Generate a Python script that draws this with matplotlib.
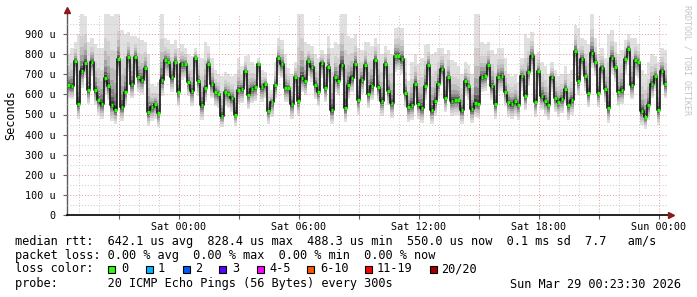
import numpy as np
import matplotlib
matplotlib.use("Agg")
import matplotlib.pyplot as plt
from matplotlib.patches import Rectangle

W, H = 697, 297
MONO = "DejaVu Sans Mono"

# ---- data (10-minute steps, starting Fri 18:24, values in microseconds) ----
start_hour = -5.6          # hours relative to Sat 00:00
step_hours = 1.0 / 6.0

median = [
    645, 640, 765, 550, 715, 755, 620, 760, 620, 570,
    550, 680, 640, 545, 520, 775, 535, 610, 785, 650,
    785, 685, 670, 730, 510, 535, 550, 505, 670, 770,
    760, 685, 760, 610, 750, 750, 660, 615, 780, 665,
    545, 630, 750, 650, 610, 600, 495, 610, 600, 580,
    500, 620, 625, 715, 595, 625, 635, 750, 635, 650,
    515, 560, 645, 780, 750, 630, 630, 550, 685, 565,
    680, 665, 765, 735, 645, 610, 755, 630, 735, 520,
    685, 665, 745, 530, 645, 680, 750, 570, 670, 745,
    600, 640, 770, 635, 565, 750, 615, 555, 790, 790,
    775, 605, 535, 545, 650, 550, 530, 640, 745, 520,
    565, 650, 725, 580, 685, 565, 570, 570, 520, 665,
    640, 525, 555, 550, 685, 690, 745, 640, 550, 685,
    690, 610, 560, 550, 565, 545, 690, 590, 710, 790,
    560, 715, 590, 565, 545, 685, 580, 560, 575, 625,
    545, 570, 815, 665, 775, 690, 605, 805, 760, 605,
    730, 625, 530, 780, 735, 610, 620, 775, 828, 645,
    770, 760, 515, 488, 545, 650, 690, 520, 715, 650,
]

smoke_hi = [
    800, 830, 860, 900, 1000, 990, 860, 880, 850, 830,
    830, 1000, 1000, 990, 1000, 1000, 920, 900, 910, 890,
    890, 880, 870, 860, 800, 650, 640, 660, 1000, 880,
    870, 850, 870, 830, 850, 830, 800, 790, 830, 800,
    780, 860, 840, 780, 720, 700, 690, 710, 700, 690,
    700, 780, 740, 790, 795, 760, 740, 780, 720, 710,
    640, 620, 760, 880, 870, 800, 730, 700, 760, 1000,
    1000, 860, 850, 840, 800, 780, 820, 800, 890, 830,
    860, 850, 1000, 1000, 890, 880, 900, 830, 820, 860,
    860, 840, 880, 850, 800, 840, 820, 800, 930, 935,
    930, 780, 665, 760, 800, 750, 780, 845, 850, 800,
    810, 830, 830, 800, 820, 770, 760, 740, 700, 760,
    745, 700, 1000, 1000, 860, 850, 860, 820, 800, 830,
    830, 780, 700, 690, 700, 660, 780, 900, 880, 910,
    800, 810, 760, 740, 700, 760, 720, 690, 700, 740,
    700, 720, 945, 930, 880, 870, 850, 1000, 880, 800,
    830, 780, 900, 920, 860, 800, 820, 870, 900, 880,
    880, 850, 720, 700, 760, 800, 790, 760, 830, 820,
]

smoke_lo = [
    580, 575, 690, 480, 630, 680, 550, 690, 545, 500,
    480, 600, 570, 470, 455, 690, 470, 540, 710, 580,
    700, 610, 600, 650, 445, 470, 480, 440, 590, 690,
    690, 610, 680, 540, 670, 680, 590, 540, 700, 590,
    475, 560, 670, 580, 540, 530, 440, 540, 530, 510,
    445, 550, 555, 640, 525, 555, 565, 670, 560, 580,
    455, 490, 575, 700, 680, 560, 560, 480, 610, 495,
    610, 595, 690, 660, 575, 540, 680, 560, 660, 455,
    610, 595, 670, 465, 575, 610, 675, 500, 600, 670,
    530, 570, 690, 565, 495, 675, 545, 485, 710, 720,
    700, 535, 465, 475, 580, 480, 460, 570, 670, 455,
    495, 580, 650, 510, 610, 495, 500, 500, 455, 590,
    570, 460, 490, 485, 610, 615, 670, 570, 480, 610,
    615, 540, 490, 480, 495, 475, 615, 520, 640, 710,
    490, 640, 520, 495, 475, 610, 510, 490, 505, 555,
    475, 500, 740, 595, 700, 615, 535, 730, 690, 535,
    655, 555, 460, 700, 660, 540, 550, 700, 750, 575,
    690, 680, 450, 430, 475, 580, 615, 450, 640, 580,
]

x_tick_hours = [0, 6, 12, 18, 24]
x_tick_labels = ["Sat 00:00", "Sat 06:00", "Sat 12:00", "Sat 18:00", "Sun 00:00"]
y_ticks = [0, 100, 200, 300, 400, 500, 600, 700, 800, 900]
y_tick_labels = ["0", "100 u", "200 u", "300 u", "400 u", "500 u",
                 "600 u", "700 u", "800 u", "900 u"]

loss_labels = ["0", "1", "2", "3", "4-5", "6-10", "11-19", "20/20"]
loss_colors = ["#26ff00", "#00b8ff", "#0059ff", "#5e00ff",
               "#ff00ff", "#ff5500", "#ff0000", "#a10000"]

stats_line = "median rtt:  642.1 us avg  828.4 us max  488.3 us min  550.0 us now  0.1 ms sd  7.7   am/s"
loss_line = "packet loss: 0.00 % avg  0.00 % max  0.00 % min  0.00 % now"
probe_line = "probe:       20 ICMP Echo Pings (56 Bytes) every 300s"
stamp = "Sun Mar 29 00:23:30 2026"

# ---- figure ----
fig = plt.figure(figsize=(W / 100, H / 100), dpi=100)
fig.patch.set_facecolor("white")
ax = fig.add_axes([67 / W, 82 / H, 600 / W, 201 / H])

med = np.array(median, float)
hi = np.array(smoke_hi, float)
lo = np.array(smoke_lo, float)
n = len(med)
t = start_hour + np.arange(n + 1) * step_hours
ext = lambda a: np.append(a, a[-1])

fracs_up = [1.0, 0.62, 0.42, 0.28, 0.18, 0.10, 0.05]
fracs_dn = [1.0, 0.80, 0.62, 0.46, 0.32, 0.20, 0.10]
grays = ["#e0e0e0", "#d0d0d0", "#bcbcbc", "#a2a2a2", "#848484", "#5e5e5e", "#3a3a3a"]
for fu, fd, g in zip(fracs_up, fracs_dn, grays):
    top = med + fu * (hi - med)
    bot = med - fd * (med - lo)
    ax.fill_between(t, ext(bot), ext(top), step="post", color=g, lw=0, zorder=1)

ax.step(t, ext(med), where="post", color="#141414", lw=1.2, zorder=3)
ax.hlines(med, t[:-1] + 0.02, t[1:] - 0.02, color="#22ff00", lw=2.4, zorder=4)

ax.set_xlim(start_hour, start_hour + n * step_hours)
ax.set_ylim(0, 1000)

# grid
maj_x = np.arange(-3, 25, 3)
ax.set_xticks(maj_x)
ax.set_xticklabels([x_tick_labels[x_tick_hours.index(h)] if h in x_tick_hours else "" for h in maj_x],
                   fontfamily=MONO, fontsize=7.3)
ax.set_xticks(np.arange(-5, 25, 1), minor=True)
ax.set_yticks(y_ticks)
ax.set_yticklabels(y_tick_labels, fontfamily=MONO, fontsize=7.3)
ax.set_yticks(np.arange(50, 1000, 100), minor=True)

ax.set_axisbelow(False)
dot = (0, (1, 2))
ax.grid(which="major", color="#e39a9a", lw=0.7, ls=dot, zorder=2.5)
ax.grid(which="minor", color="#c8c8c8", lw=0.7, ls=dot, zorder=2.4)
ax.tick_params(which="major", axis="x", length=3, width=0.8, color="#606060", pad=2)
ax.tick_params(which="major", axis="y", length=3, width=0.8, color="#606060", pad=5)
ax.tick_params(which="minor", length=0)

for s in ["top", "right"]:
    ax.spines[s].set_visible(False)
ax.spines["left"].set_color("#5a5a5a")
ax.spines["left"].set_linewidth(1.0)
ax.spines["bottom"].set_visible(False)
ax.plot([0, 1 + 4 / 600], [0, 0], transform=ax.transAxes, color="black", lw=1.2,
        clip_on=False, zorder=5)
ax.plot([1 + 4 / 600], [0], marker=">", ms=4.5, color="#8b1a1a", transform=ax.transAxes,
        clip_on=False, zorder=6)
ax.plot([0], [1 + 4 / 201], marker="^", ms=4.5, color="#8b1a1a", transform=ax.transAxes,
        clip_on=False, zorder=6)

# labels
fig.text(11 / W, 1 - 115 / H, "Seconds", rotation=90, ha="center", va="center",
         fontfamily=MONO, fontsize=8.5)
fig.text(687 / W, 1 - 5 / H, "RRDTOOL / TOBI OETIKER", rotation=270, ha="center", va="top",
         fontfamily=MONO, fontsize=6.0, color="#c4c4c4")

fs = 8.55
fig.text(15 / W, 1 - 241 / H, stats_line, ha="left", va="center", fontfamily=MONO, fontsize=fs)
fig.text(15 / W, 1 - 256 / H, loss_line, ha="left", va="center", fontfamily=MONO, fontsize=fs)
fig.text(15 / W, 1 - 269 / H, "loss color:", ha="left", va="center", fontfamily=MONO, fontsize=fs)
fig.text(15 / W, 1 - 284 / H, probe_line, ha="left", va="center", fontfamily=MONO, fontsize=fs)
fig.text(681 / W, 1 - 284 / H, stamp, ha="right", va="center", fontfamily=MONO, fontsize=fs)

sw_x = [108, 145.5, 182.5, 219, 256.5, 307, 365, 430]
lab_x = [121, 158, 195.5, 232, 269.5, 320.5, 377, 441.5]
for sx, lx, lab, col in zip(sw_x, lab_x, loss_labels, loss_colors):
    fig.add_artist(Rectangle((sx / W, 1 - 272.5 / H), 7 / W, 7 / H, transform=fig.transFigure,
                             facecolor=col, edgecolor="black", lw=0.8))
    fig.text(lx / W, 1 - 269 / H, lab, ha="left", va="center", fontfamily=MONO, fontsize=fs)

fig.savefig("out.png", dpi=100)
